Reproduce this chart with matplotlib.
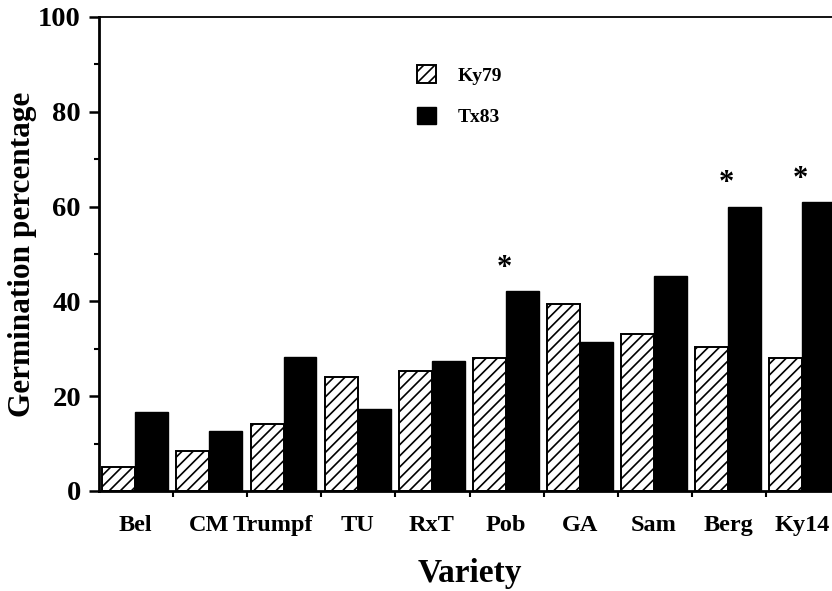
import matplotlib
matplotlib.use("Agg")
import matplotlib.pyplot as plt
import matplotlib.transforms as mtransforms
import numpy as np

# ============================================================
# DADOS
# ============================================================
variedades = ['Bel', 'CM', 'Trumpf', 'TU', 'RxT', 'Pob', 'GA', 'Sam', 'Berg', 'Ky14']
ky79 = [5.1, 8.4, 14.2, 24.1, 25.4, 28.0, 39.5, 33.1, 30.4, 28.1]
tx83 = [16.6, 12.6, 28.2, 17.4, 27.4, 42.2, 31.5, 45.4, 60.0, 61.0]
significativo = ['Pob', 'Berg', 'Ky14']
y_ticks = [0, 20, 40, 60, 80, 100]

# ============================================================
# ESTILO
# ============================================================
plt.rcParams['font.family'] = ['Liberation Serif', 'DejaVu Serif']
plt.rcParams['font.weight'] = 'bold'
plt.rcParams['hatch.linewidth'] = 1.2

fig = plt.figure(figsize=(8.32, 5.91), dpi=100)
ax = fig.add_axes([99 / 832, 1 - 491 / 591, 741 / 832, 474 / 591])

x = np.arange(len(variedades))
largura = 0.445
centro = x + 0.49

b1 = ax.bar(centro - largura / 2, ky79, width=largura, color='white',
            edgecolor='black', hatch='///', linewidth=1.4, label='Ky79')
b2 = ax.bar(centro + largura / 2, tx83, width=largura, color='black',
            edgecolor='black', linewidth=1.0, label='Tx83')

# asteriscos de significância
for i, var in enumerate(variedades):
    if var in significativo:
        ax.annotate('*', xy=(centro[i] - 0.02, tx83[i]), xytext=(0, 6),
                    textcoords='offset points', ha='center', va='bottom',
                    fontsize=22, fontweight='bold')

ax.set_xlim(0, len(variedades))
ax.set_ylim(0, 100)

# eixo Y
ax.set_yticks(y_ticks)
ax.set_yticks(np.arange(10, 100, 20), minor=True)
ax.tick_params(axis='y', which='major', length=7, width=1.8, labelsize=20.5, pad=6)
ax.tick_params(axis='y', which='minor', length=3.5, width=1.5)
ax.set_ylabel('Germination percentage', fontsize=22.5, fontweight='bold', labelpad=1)

# eixo X: rótulos no centro, marcas nas divisões
ax.set_xticks(centro)
ax.set_xticklabels(variedades)
ax.set_xticks(np.arange(1, len(variedades)), minor=True)
ax.tick_params(axis='x', which='major', length=0, labelsize=17.5, pad=17)
ax.tick_params(axis='x', which='minor', length=4, width=1.5, direction='out')
for lbl in ax.get_xticklabels():
    if lbl.get_text() == 'Trumpf':
        lbl.set_transform(lbl.get_transform() +
                          mtransforms.ScaledTranslation(-0.11, 0, fig.dpi_scale_trans))
ax.set_xlabel('Variety', fontsize=24, fontweight='bold', labelpad=16)

for s in ['left', 'bottom']:
    ax.spines[s].set_linewidth(2.0)
ax.spines['top'].set_linewidth(1.3)
ax.spines['right'].set_visible(False)

ax.legend(handles=[b1, b2], loc='upper left', bbox_to_anchor=(0.405, 0.935),
          frameon=False, fontsize=14, handlelength=1.0, handleheight=1.0,
          handletextpad=1.1, labelspacing=1.15)

fig.savefig('out.png', dpi=100)
